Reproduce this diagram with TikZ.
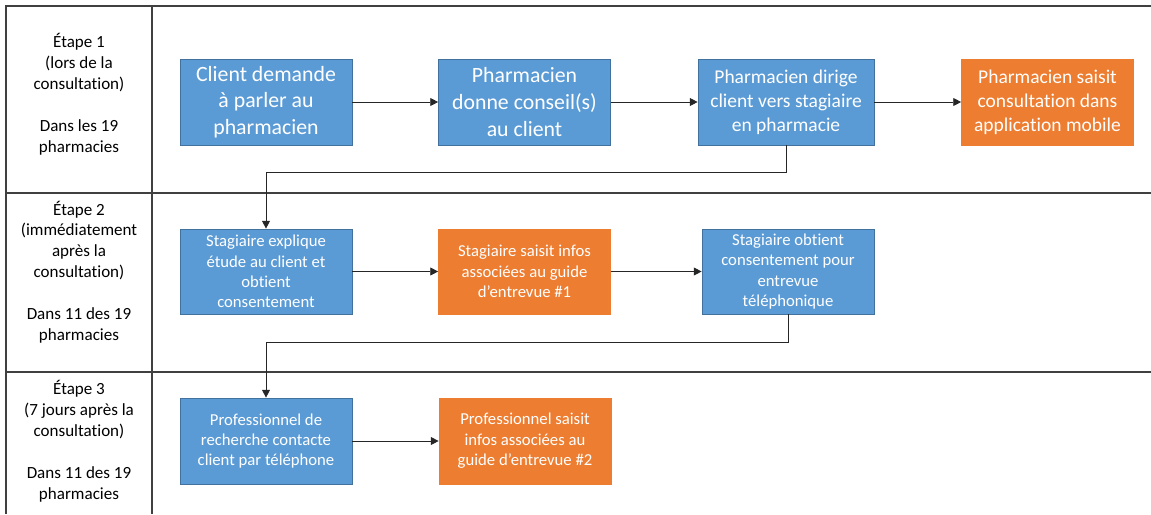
\documentclass[tikz,border=0pt]{standalone}
\usepackage{fontspec}
\setmainfont{Carlito}[RawFeature={-liga;-clig;-calt}]
\usetikzlibrary{arrows.meta}
\definecolor{bleu}{HTML}{5B9BD5}
\definecolor{bleufonce}{HTML}{41719C}
\definecolor{orangeoff}{HTML}{ED7D31}
\definecolor{trait}{HTML}{404040}
\tikzstyle{etape} = [align=center, font=\fontsize{9.7}{11.9}\selectfont]
\tikzstyle{action} = [rectangle, fill=bleu, draw=bleufonce, text=white, align=center, minimum width=3.44cm, minimum height=1.72cm, inner sep=1pt]
\tikzstyle{saisie} = [action, fill=orangeoff, draw=orangeoff]
\tikzstyle{grand} = [font=\fontsize{12.4}{15.1}\selectfont]
\tikzstyle{moyen} = [font=\fontsize{11.1}{13.6}\selectfont]
\tikzstyle{petit} = [font=\fontsize{9.5}{11.6}\selectfont]
\tikzstyle{fleche} = [-{Triangle[length=4.5pt,width=4.5pt]}, line width=0.5pt, black!85]
\tikzstyle{cadre} = [line width=0.85pt, trait]

\begin{document}
\begin{tikzpicture}[x=0.02cm, y=-0.02cm]
			\useasboundingbox (0,0) rectangle (1151,514);
			\draw[cadre] (6,514) -- (6,6) -- (1151,6);
			\draw[cadre] (152,6) -- (152,514);
			\draw[cadre] (6,193) -- (1151,193);
			\draw[cadre] (6,372) -- (1151,372);

			\node[etape] (e1) at (79,94) {Étape 1\\(lors de la\\consultation)\\[11.9pt]Dans les 19\\pharmacies};
			\node[etape] (e2) at (79,272) {Étape 2\\(immédiatement\\après la\\consultation)\\[11.9pt]Dans 11 des 19\\pharmacies};
			\node[etape] (e3) at (79,441) {Étape 3\\(7 jours après la\\consultation)\\[11.9pt]Dans 11 des 19\\pharmacies};

			\node[action, grand] (b1) at (266,102) {Client demande\\à parler au\\pharmacien};
			\node[action, grand] (b2) at (524.5,102) {Pharmacien\\donne conseil(s)\\au client};
			\node[action, moyen, minimum width=3.52cm] (b3) at (786,102) {Pharmacien dirige\\client vers stagiaire\\en pharmacie};
			\node[saisie, moyen] (b4) at (1047.5,102) {Pharmacien saisit\\consultation dans\\application mobile};

			\node[action, petit, minimum height=1.7cm] (b5) at (266,271.5) {Stagiaire explique\\étude au client et\\obtient\\consentement};
			\node[saisie, petit, minimum height=1.7cm] (b6) at (524.5,271.5) {Stagiaire saisit infos\\associées au guide\\d’entrevue \#1};
			\node[action, petit, minimum height=1.7cm] (b7) at (788,271.5) {Stagiaire obtient\\consentement pour\\entrevue\\téléphonique};

			\node[action, petit] (b8) at (266,441) {Professionnel de\\recherche contacte\\client par téléphone};
			\node[saisie, petit] (b9) at (525,441) {Professionnel saisit\\infos associées au\\guide d’entrevue \#2};

			\draw[fleche] (b1) -- (b2);
			\draw[fleche] (b2) -- (b3);
			\draw[fleche] (b3) -- (b4);
			\draw[fleche] (b3.south) -- ++(0,27) -| (b5.north);
			\draw[fleche] (b5) -- (b6);
			\draw[fleche] (b6) -- (b7);
			\draw[fleche] (b7.south) -- ++(0,28) -| (b8.north);
			\draw[fleche] (b8) -- (b9);
		\end{tikzpicture}
\end{document}
